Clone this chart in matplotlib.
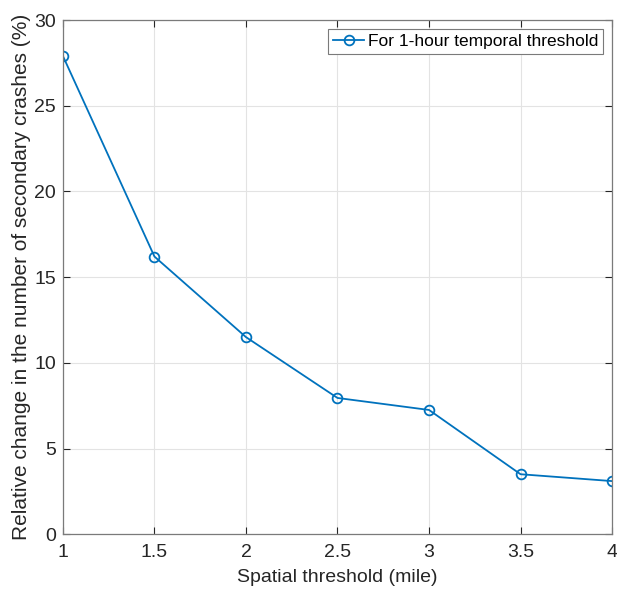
import matplotlib
matplotlib.use("Agg")
import matplotlib.pyplot as plt

# spatial threshold (mile) vs relative change in secondary crashes (%)
spatial_threshold = [1, 1.5, 2, 2.5, 3, 3.5, 4]
relative_change = [27.9, 16.2, 11.5, 7.95, 7.25, 3.5, 3.1]

x_ticks = [1, 1.5, 2, 2.5, 3, 3.5, 4]
x_tick_labels = ["1", "1.5", "2", "2.5", "3", "3.5", "4"]
y_ticks = [0, 5, 10, 15, 20, 25, 30]

plt.rcParams["font.family"] = ["Liberation Sans", "DejaVu Sans"]

fig = plt.figure(figsize=(6.17, 5.89), dpi=100)
ax = fig.add_axes([0.102, 0.093, 0.89, 0.873])

ax.plot(spatial_threshold, relative_change, color="#0072BD", linewidth=1.3,
        marker="o", markersize=7, markerfacecolor="none", markeredgewidth=1.3,
        label="For 1-hour temporal threshold")

ax.set_xlim(1, 4)
ax.set_ylim(0, 30)
ax.set_xticks(x_ticks)
ax.set_xticklabels(x_tick_labels)
ax.set_yticks(y_ticks)

ax.grid(True, color="#e3e3e3", linewidth=0.8)
ax.set_axisbelow(True)
ax.tick_params(direction="in", top=True, right=True, length=5,
               labelsize=14, colors="#262626", width=0.8)
ax.tick_params(axis="x", pad=7)
ax.tick_params(axis="y", pad=5)
for side in ax.spines.values():
    side.set_color("#7a7a7a")
    side.set_linewidth(0.9)

ax.set_xlabel("Spatial threshold (mile)", fontsize=14, color="#262626", labelpad=6)
ax.set_ylabel("Relative change in the number of secondary crashes (%)",
              fontsize=15, color="#262626", labelpad=2)

leg = ax.legend(loc="upper right", fontsize=12.5, fancybox=False,
                framealpha=1, edgecolor="#7a7a7a", borderpad=0.3,
                handlelength=1.8, handletextpad=0.2, borderaxespad=0.5)
leg.get_frame().set_linewidth(0.8)

fig.savefig("out.png", dpi=100)
